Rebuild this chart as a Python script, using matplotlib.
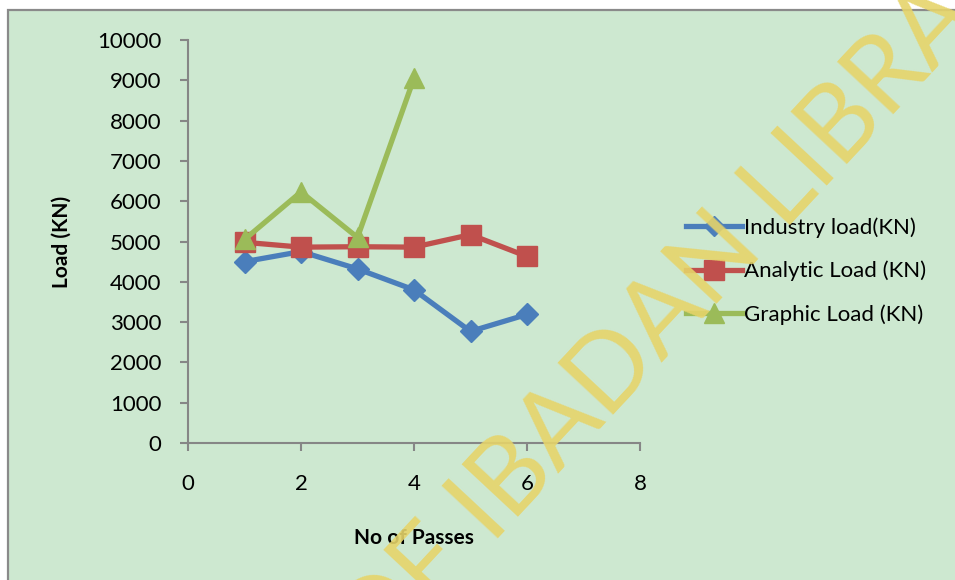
import matplotlib
matplotlib.use("Agg")
import matplotlib.pyplot as plt
from matplotlib.patches import Rectangle
from matplotlib.lines import Line2D

passes = [1, 2, 3, 4, 5, 6]
industry = [4500, 4750, 4320, 3800, 2770, 3190]
analytic = [4980, 4860, 4870, 4860, 5170, 4630]
graphic_x = [1, 2, 3, 4]
graphic = [5050, 6230, 5100, 9050]
labels = ["Industry load(KN)", "Analytic Load (KN)", "Graphic Load (KN)"]
xticks = [0, 2, 4, 6, 8]
yticks = list(range(0, 10001, 1000))

plt.rcParams['font.family'] = ['Lato', 'DejaVu Sans']

W, H = 955, 580
fig = plt.figure(figsize=(W / 100, H / 100), dpi=100, facecolor='white')

bg = '#cde8d0'
fig.patches.append(Rectangle((8 / W, -0.05), 1.1, 1 - 10 / H + 0.05,
                             transform=fig.transFigure, facecolor=bg,
                             edgecolor='#8a8a8a', linewidth=1.6, zorder=-5))

ax = fig.add_axes([188 / W, 1 - 443 / H, (640 - 188) / W, (443 - 40) / H])
ax.set_facecolor('none')
ax.set_zorder(1)
for s in ['top', 'right']:
    ax.spines[s].set_visible(False)
for s in ['left', 'bottom']:
    ax.spines[s].set_color('#868686')
    ax.spines[s].set_linewidth(1.5)

c_blue, c_red, c_green = '#4a7ebb', '#c0504d', '#9bbb59'
ax.plot(passes, industry, color=c_blue, lw=3.8, marker='D', ms=11,
        label=labels[0], clip_on=False, zorder=3)
ax.plot(passes, analytic, color=c_red, lw=3.8, marker='s', ms=14,
        label=labels[1], clip_on=False, zorder=3)
ax.plot(graphic_x, graphic, color=c_green, lw=3.8, marker='^', ms=14,
        label=labels[2], clip_on=False, zorder=4)

ax.set_xlim(0, 8)
ax.set_ylim(0, 10000)
ax.set_xticks(xticks)
ax.set_yticks(yticks)
ax.tick_params(axis='both', direction='out', length=6, width=1.5,
               color='#868686', labelsize=16, labelcolor='black')
ax.tick_params(axis='y', pad=13)
ax.tick_params(axis='x', pad=16)

fig.text(414 / W, 1 - 538 / H, "No of Passes", ha='center', va='center',
         fontsize=15, fontweight='bold', zorder=2)
fig.text(62 / W, 1 - 242 / H, "Load (KN)", ha='center', va='center',
         fontsize=15, fontweight='bold', rotation=90, zorder=2)

handles = [
    Line2D([], [], color=c_blue, lw=3.8, marker='D', ms=10),
    Line2D([], [], color=c_red, lw=3.8, marker='s', ms=14),
    Line2D([], [], color=c_green, lw=3.8, marker='^', ms=14),
]
leg = fig.legend(handles, labels, loc='center left',
                 bbox_to_anchor=(686 / W, 1 - 271 / H), frameon=False,
                 fontsize=16, handlelength=2.5, handletextpad=0.12,
                 labelspacing=1.02, borderaxespad=0, borderpad=0)
leg.set_zorder(2)

# watermark
ang = 47
wm_col = '#e6d46a'
fig.text(492 / W, 1 - 545 / H, "IBADAN LIBRARY", rotation=ang,
         rotation_mode='anchor', ha='left', va='baseline', fontsize=76,
         fontweight='normal', color=wm_col, alpha=0.9, zorder=10)
fig.text(474 / W, 1 - 565 / H, "UNIVERSITY OF", rotation=ang,
         rotation_mode='anchor', ha='right', va='baseline', fontsize=76,
         fontweight='normal', color=wm_col, alpha=0.9, zorder=10)

fig.savefig("out.png", dpi=100, facecolor='white')
